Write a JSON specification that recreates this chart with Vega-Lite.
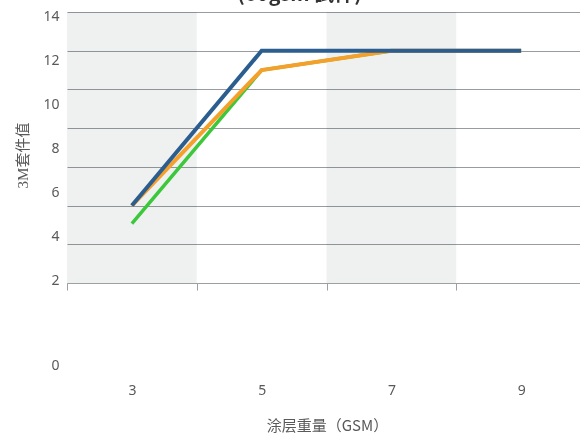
{
  "$schema": "https://vega.github.io/schema/vega-lite/v6.json",
  "autosize": "none",
  "padding": {"left": 67, "top": 12, "right": 0, "bottom": 151},
  "width": 513,
  "height": 271,
  "background": "white",
  "config": {"view": {"stroke": null}},
  "title": {
    "text": "(60gsm 試件)",
    "frame": "group",
    "anchor": "middle",
    "orient": "top",
    "baseline": "alphabetic",
    "offset": 0,
    "dy": 12,
    "dx": -24,
    "fontSize": 20,
    "fontWeight": "bold",
    "font": "Noto Sans CJK SC",
    "color": "#333333"
  },
  "datasets": {
    "lines": [
      {"gsm": "3", "series": "S1", "value": 6},
      {"gsm": "5", "series": "S1", "value": 12},
      {"gsm": "7", "series": "S1", "value": 12},
      {"gsm": "9", "series": "S1", "value": 12},
      {"gsm": "3", "series": "S2", "value": 6},
      {"gsm": "5", "series": "S2", "value": 11.25},
      {"gsm": "7", "series": "S2", "value": 12},
      {"gsm": "9", "series": "S2", "value": 12},
      {"gsm": "3", "series": "S3", "value": 5.3},
      {"gsm": "5", "series": "S3", "value": 11.25},
      {"gsm": "7", "series": "S3", "value": 12},
      {"gsm": "9", "series": "S3", "value": 12}
    ],
    "bands": [{"gsm": "3"}, {"gsm": "7"}]
  },
  "encoding": {
    "x": {
      "field": "gsm",
      "type": "nominal",
      "scale": {"type": "band", "domain": ["3", "5", "7", "9"], "range": [0, 519], "paddingInner": 0, "paddingOuter": 0},
      "axis": {
        "orient": "bottom",
        "labelAngle": 0,
        "tickBand": "extent",
        "ticks": true,
        "tickSize": 7,
        "tickColor": "#9aa0a6",
        "domainColor": "#9aa0a6",
        "grid": false,
        "labelPadding": 93,
        "labelFont": "Noto Sans",
        "labelFontSize": 14,
        "labelColor": "#595959",
        "title": "涂层重量（GSM）",
        "titleFont": "Noto Sans CJK SC",
        "titleFontSize": 15,
        "titleFontWeight": "normal",
        "titleColor": "#595959",
        "titlePadding": 21,
        "titleX": 260
      }
    }
  },
  "layer": [
    {
      "data": {"name": "bands"},
      "mark": {"type": "rect", "color": "#eff1f0", "blend": "multiply"}
    },
    {
      "data": {"name": "lines"},
      "encoding": {
        "y": {
          "field": "value",
          "type": "quantitative",
          "scale": {"domain": [3, 13.5], "nice": false, "zero": false},
          "axis": {
            "orient": "left",
            "values": [3, 4.5, 6, 7.5, 9, 10.5, 12, 13.5],
            "grid": true,
            "gridColor": "#969ca1",
            "gridWidth": 1,
            "labels": false,
            "ticks": false,
            "domain": false,
            "title": null
          }
        }
      },
      "layer": [
        {"transform": [{"filter": "datum.series === 'S3'"}], "mark": {"type": "line", "color": "#3cc83a", "strokeWidth": 3.5}},
        {"transform": [{"filter": "datum.series === 'S2'"}], "mark": {"type": "line", "color": "#f5a02a", "strokeWidth": 4}},
        {"transform": [{"filter": "datum.series === 'S1'"}], "mark": {"type": "line", "color": "#2b5e8e", "strokeWidth": 4}}
      ]
    },
    {
      "data": {"name": "lines"},
      "mark": {"type": "point", "opacity": 0},
      "encoding": {
        "y": {
          "field": "value",
          "type": "quantitative",
          "scale": {"domain": [0, 2, 14], "range": [353, 268, 4], "nice": false, "zero": false},
          "axis": {
            "orient": "left",
            "values": [0, 2, 4, 6, 8, 10, 12, 14],
            "format": "d",
            "grid": false,
            "ticks": false,
            "domain": false,
            "labelPadding": 8,
            "labelFont": "Noto Sans",
            "labelFontSize": 14,
            "labelColor": "#595959",
            "labelOverlap": false,
            "title": "3M套件值",
            "titleFont": "Liberation Serif, Noto Sans CJK SC",
            "titleFontSize": 15,
            "titleFontWeight": "normal",
            "titleColor": "#595959",
            "titlePadding": 12,
            "titleY": 143
          }
        }
      }
    }
  ],
  "resolve": {"scale": {"y": "independent"}, "axis": {"y": "independent"}}
}
